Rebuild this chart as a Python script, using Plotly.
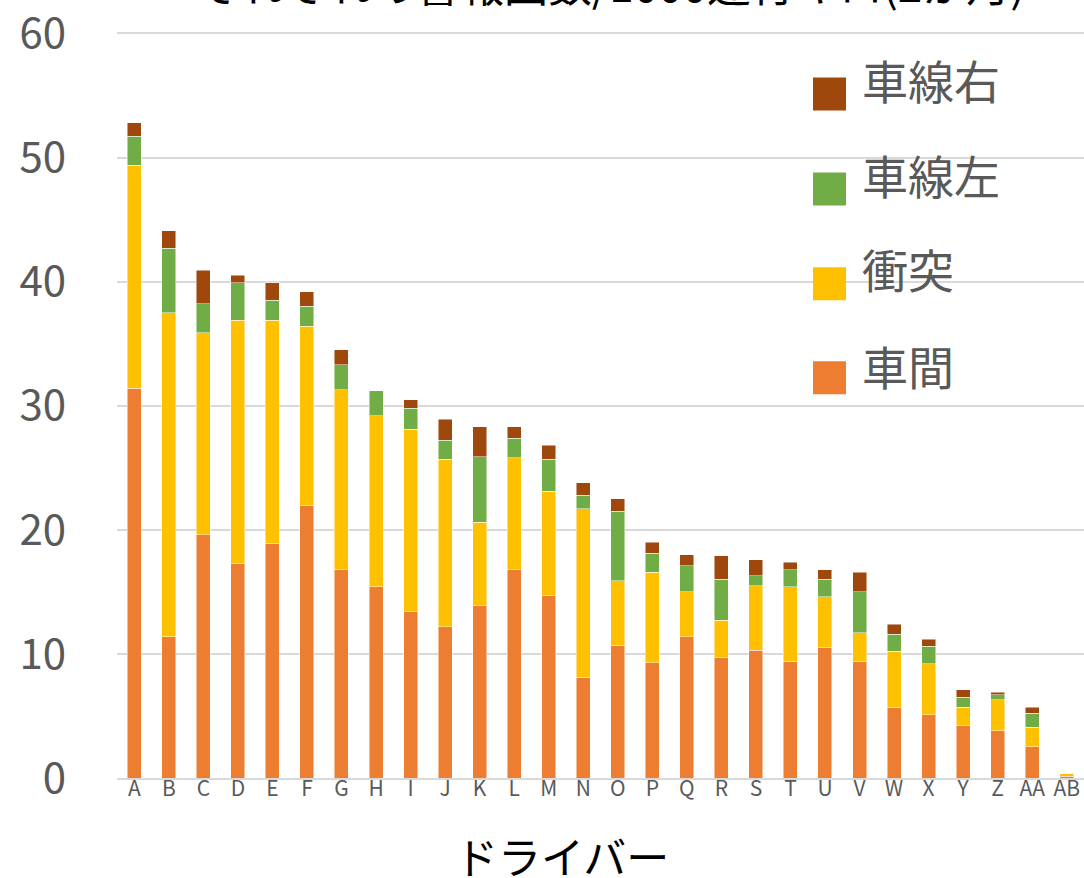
import plotly.graph_objects as go

drivers = ["A", "B", "C", "D", "E", "F", "G", "H", "I", "J", "K", "L", "M", "N",
           "O", "P", "Q", "R", "S", "T", "U", "V", "W", "X", "Y", "Z", "AA", "AB"]
shakan = [31.4, 11.4, 19.6, 17.3, 18.9, 22.0, 16.8, 15.4, 13.4, 12.2, 13.9, 16.8, 14.7, 8.1,
          10.7, 9.3, 11.4, 9.7, 10.3, 9.4, 10.5, 9.4, 5.7, 5.1, 4.2, 3.8, 2.5, 0.15]
shototsu = [18.0, 26.1, 16.3, 19.6, 18.0, 14.4, 14.5, 13.8, 14.7, 13.5, 6.7, 9.0, 8.4, 13.6,
            5.2, 7.3, 3.6, 3.0, 5.2, 6.0, 4.1, 2.3, 4.5, 4.1, 1.5, 2.5, 1.6, 0.25]
shasen_left = [2.3, 5.2, 2.3, 3.0, 1.6, 1.6, 2.0, 2.0, 1.7, 1.5, 5.3, 1.6, 2.6, 1.1,
               5.6, 1.5, 2.1, 3.3, 0.8, 1.4, 1.4, 3.3, 1.4, 1.4, 0.8, 0.4, 1.1, 0.0]
shasen_right = [1.1, 1.4, 2.7, 0.6, 1.4, 1.2, 1.2, 0.0, 0.7, 1.7, 2.4, 0.9, 1.1, 1.0,
                1.0, 0.9, 0.9, 1.9, 1.3, 0.6, 0.8, 1.6, 0.8, 0.6, 0.6, 0.2, 0.5, 0.0]

series_names = ["車間", "衝突", "車線左", "車線右"]
series_values = [shakan, shototsu, shasen_left, shasen_right]
colors = ["#ED7D31", "#FFC000", "#70AD47", "#9E480E"]

title_text = "それぞれの警報回数/1000運行キロ(2か月)"
x_title = "ドライバー"
y_ticks = [0, 10, 20, 30, 40, 50, 60]
y_max = 60.2

FONT = "Noto Sans CJK JP"
W, H = 1084, 878
L, R, T, B = 117, 0, 30.5, 100
PW, PH = W - L - R, H - T - B


def px_x(px):
    return (px - L) / PW


def px_y(py):
    return (H - B - py) / PH


fig = go.Figure()
for name, vals, col in zip(series_names, series_values, colors):
    fig.add_trace(go.Bar(
        x=drivers, y=vals, name=name, marker_color=col,
        marker_line=dict(color="rgba(255,255,255,0.6)", width=0.8),
        showlegend=False,
    ))

# manual legend (top to bottom: reversed stacking order)
legend_rows = [(3, 93.5, 79), (2, 188.5, 174), (1, 283.5, 268), (0, 377.5, 365)]
for idx, sq_c, tx_c in legend_rows:
    fig.add_shape(type="rect", xref="paper", yref="paper",
                  x0=px_x(813), x1=px_x(846), y0=px_y(sq_c + 16.5), y1=px_y(sq_c - 16.5),
                  fillcolor=colors[idx], line=dict(width=0))
    fig.add_annotation(xref="paper", yref="paper", x=px_x(860), y=px_y(tx_c),
                       xanchor="left", yanchor="middle", showarrow=False,
                       text=series_names[idx],
                       font=dict(family=FONT, size=46, color="#595959"))

# chart title (cropped at the top in the reference)
fig.add_annotation(xref="paper", yref="paper", x=px_x(610), y=px_y(-18),
                   xanchor="center", yanchor="middle", showarrow=False,
                   text=title_text, font=dict(family=FONT, size=44, color="#000000"))

# x axis title
fig.add_annotation(xref="paper", yref="paper", x=px_x(562), y=px_y(855),
                   xanchor="center", yanchor="middle", showarrow=False,
                   text=x_title, font=dict(family=FONT, size=43, color="#000000"))

fig.update_layout(
    barmode="stack",
    bargap=0.595,
    width=W, height=H,
    margin=dict(l=L, r=R, t=T, b=B, autoexpand=False),
    paper_bgcolor="white",
    plot_bgcolor="white",
    font=dict(family=FONT, color="#595959"),
    showlegend=False,
    hovermode=False,
)
fig.update_xaxes(
    type="category",
    tickangle=0,
    tickfont=dict(family=FONT, size=21, color="#595959"),
    showgrid=False,
    showline=True, linecolor="#D9D9D9", linewidth=1.5,
    ticks="",
    ticklabelstandoff=-9,
)
fig.update_yaxes(
    range=[0, y_max],
    tickvals=y_ticks,
    tickfont=dict(family=FONT, size=42, color="#595959"),
    showgrid=True, gridcolor="#D9D9D9", gridwidth=1.5,
    zeroline=False,
    showline=False,
    ticks="",
    ticklabelstandoff=50,
    ticklabeloverflow="allow",
)

fig.write_html(
    "out.html",
    config={"displayModeBar": False},
    post_script="document.body.style.margin='0';document.body.style.overflow='hidden';",
)
